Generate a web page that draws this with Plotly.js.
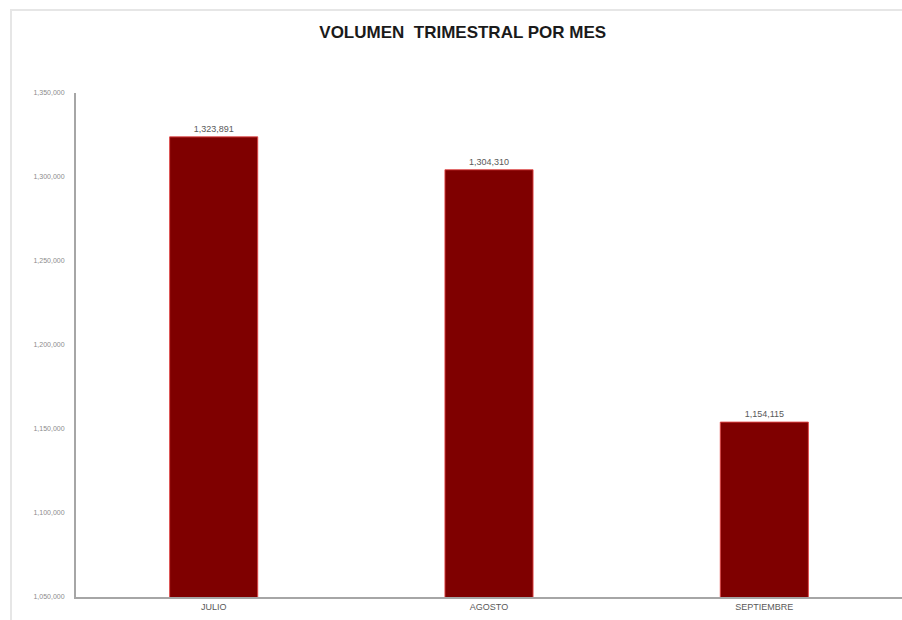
<!DOCTYPE html>
<html><head><meta charset="utf-8">
<script src="https://cdn.plot.ly/plotly-3.0.1.min.js"></script>
<style>
html,body{margin:0;padding:0;background:#fff;}
#frame{position:absolute;left:10px;top:9px;width:892px;height:611px;border-top:2px solid #e6e6e6;border-left:2px solid #e6e6e6;box-sizing:border-box;}
#chart{position:absolute;left:0;top:0;width:902px;height:620px;}
</style></head>
<body>
<div id="frame"></div>
<div id="chart"></div>
<script>
const categories = ["JULIO", "AGOSTO", "SEPTIEMBRE"];
const volumes = [1323891, 1304310, 1154115];
const yTicks = [1050000, 1100000, 1150000, 1200000, 1250000, 1300000, 1350000];
const yTickLabels = ["1,050,000", "1,100,000", "1,150,000", "1,200,000", "1,250,000", "1,300,000", "1,350,000"];

const fmt = v => v.toLocaleString('en-US');

Plotly.newPlot('chart', [{
  type: 'bar',
  x: categories,
  y: volumes,
  width: 0.32,
  marker: {color: '#7f0000', line: {color: 'rgba(225,70,70,0.9)', width: 1}},
  text: volumes.map(fmt),
  textposition: 'outside',
  textfont: {family: 'Liberation Sans, Arial, sans-serif', size: 9, color: '#595959'},
  cliponaxis: false,
  hoverinfo: 'none'
}], {
  width: 902, height: 620,
  margin: {l: 76, r: 0, t: 93, b: 23},
  paper_bgcolor: 'rgba(0,0,0,0)',
  plot_bgcolor: 'rgba(0,0,0,0)',
  title: {text: '<b>VOLUMEN  TRIMESTRAL POR MES</b>', x: 0.513, xanchor: 'center', y: 0.948, yanchor: 'middle',
          font: {family: 'Liberation Sans, Arial, sans-serif', size: 17, color: '#1a1a1a'}},
  xaxis: {showline: true, linecolor: '#a6a6a6', linewidth: 2, ticks: '', showgrid: false,
          tickfont: {family: 'Liberation Sans, Arial, sans-serif', size: 9, color: '#595959'}},
  yaxis: {range: [1050000, 1350000], tickvals: yTicks, ticktext: yTickLabels, showline: true,
          linecolor: '#a6a6a6', linewidth: 2, ticks: '', showgrid: false, zeroline: false, ticklabelstandoff: 8,
          tickfont: {family: 'Liberation Sans, Arial, sans-serif', size: 7, color: '#8c8c8c'}},
  bargap: 0.68,
  showlegend: false
}, {displayModeBar: false, staticPlot: true});
</script>
</body></html>
